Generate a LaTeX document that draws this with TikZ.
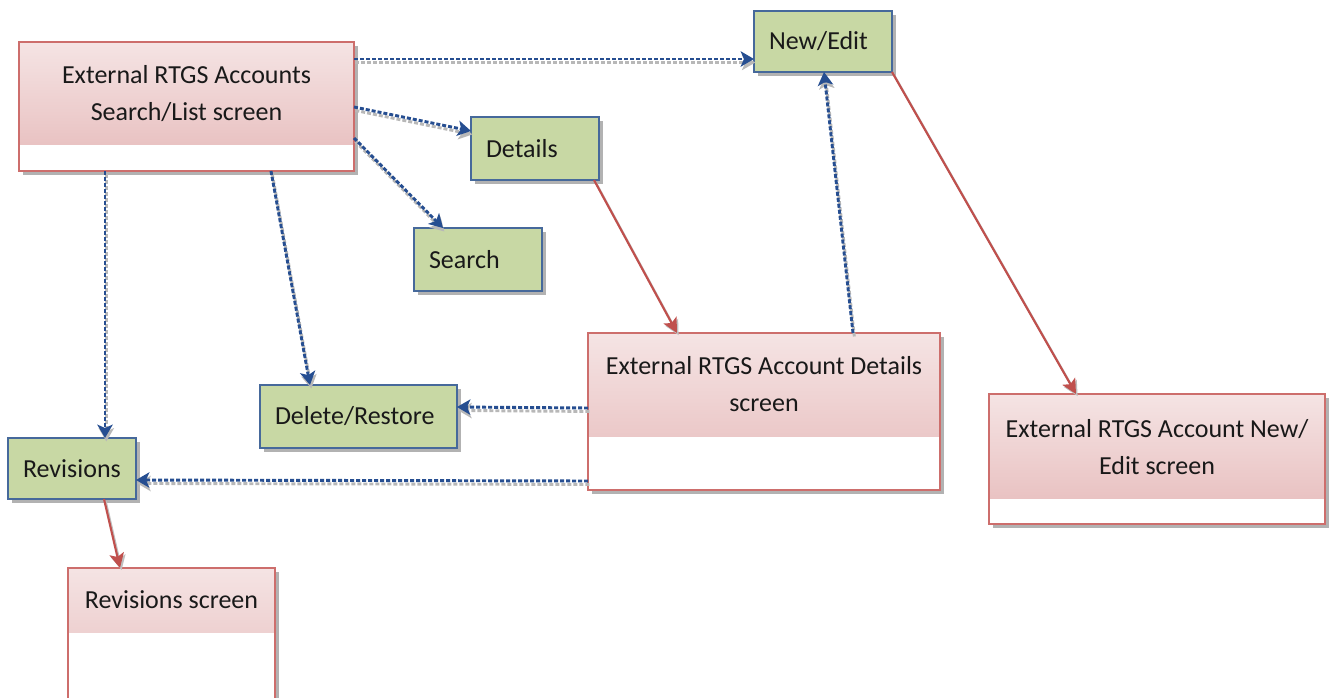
\documentclass[tikz,border=0pt]{standalone}
\usepackage{fontspec}
\setmainfont{Carlito}
\usetikzlibrary{arrows.meta,calc,shadows}
\definecolor{dotblue}{RGB}{38,78,145}
\definecolor{redline}{RGB}{192,80,77}
\definecolor{greenfill}{RGB}{200,216,164}
\definecolor{greenborder}{RGB}{70,105,155}
\definecolor{pinktop}{RGB}{245,228,228}
\definecolor{pinkbot}{RGB}{230,186,186}
\definecolor{pinkborder}{RGB}{205,110,108}
\begin{document}
\begin{tikzpicture}[x=0.75pt,y=-0.75pt,
  every node/.style={inner sep=0pt,outer sep=0pt},
  lbl/.style={font=\fontsize{19.5}{27.75}\selectfont,align=center,text=black!90},
  boxshadow/.style={drop shadow={shadow xshift=3.2pt,shadow yshift=-3.2pt,opacity=0.55,fill=black!55}},
  actbox/.style 2 args={draw=greenborder,line width=1.5pt,fill=greenfill,boxshadow,anchor=north west,
    font=\fontsize{19.5}{23}\selectfont,text=black!90,align=left,text width=#1,inner xsep=11.25pt,minimum height=#2},
  screenbox/.style={draw=pinkborder,line width=1.5pt,fill=white,boxshadow,anchor=north west,
    path picture={\shade[top color=pinktop,bottom color=pinkbot]
      (path picture bounding box.north west) rectangle ([yshift=-#1]path picture bounding box.north east);}},
  dotarrow/.style={draw=dotblue,line width=2.2pt,dash pattern=on 3pt off 1.5pt,
    -{Stealth[length=10pt,width=11.5pt,inset=2.5pt]},
    preaction={draw=black!28,line width=2.2pt,dash pattern=on 3pt off 1.5pt,
      -{Stealth[length=10pt,width=11.5pt,inset=2.5pt]},
      transform canvas={xshift=1pt,yshift=-2.6pt}}},
  redarrow/.style={draw=redline,line width=1.6pt,-{Stealth[length=11pt,width=11pt,inset=2.5pt]},
    preaction={draw=black!25,line width=1.6pt,-{Stealth[length=11pt,width=11pt,inset=2.5pt]},
      transform canvas={xshift=1.2pt,yshift=-1.6pt}}}
]
\useasboundingbox (0,0) rectangle (1333,698);

% screen boxes
\node[screenbox=77.25pt,minimum width=251.25pt,minimum height=96.75pt] (tl) at (19,42) {};
\node[lbl] (tltext) at ($(tl.north)+(0,51.5)$) {External RTGS Accounts\\Search/List screen};

\node[screenbox=77.25pt,minimum width=264pt,minimum height=117.75pt] (ds) at (588,333) {};
\node[lbl] (dstext) at ($(ds.north)+(0,51.5)$) {External RTGS Account Details\\screen};

\node[screenbox=78pt,minimum width=252pt,minimum height=97.5pt] (nes) at (989,394) {};
\node[lbl] (nestext) at ($(nes.north)+(0,53)$) {External RTGS Account New/\\Edit screen};

\node[screenbox=48pt,minimum width=155.25pt,minimum height=105pt] (rs) at (68,568) {};
\node[lbl] (rstext) at ($(rs.north)+(0,32)$) {Revisions screen};

% action boxes
\node[actbox={73.5pt}{47.25pt}] (det) at (471,117) {Details};
\node[actbox={73.5pt}{47.25pt}] (srch) at (414,228) {Search};
\node[actbox={81pt}{45.75pt}] (ne) at (754,11) {New/Edit};
\node[actbox={125.25pt}{47.25pt}] (dr) at (260,385) {Delete/Restore};
\node[actbox={73.5pt}{45.75pt}] (rev) at (8,438) {Revisions};

% dotted connectors
\draw[dotarrow] ($(tl.north east)+(0,17)$) -- ($(ne.south west)+(0,-13)$);
\draw[dotarrow] ($(tl.north east)+(0,65)$) -- ($(det.north west)+(0,14)$);
\draw[dotarrow] ($(tl.north east)+(0,96)$) -- ($(srch.north west)+(29,0)$);
\draw[dotarrow] ($(tl.south west)+(86,0)$) -- ($(rev.north west)+(97,0)$);
\draw[dotarrow] ($(tl.south west)+(252,0)$) -- ($(dr.north west)+(50,0)$);
\draw[dotarrow] ($(ds.north west)+(0,75)$) -- ($(dr.north east)+(0,22)$);
\draw[dotarrow] ($(ds.south west)+(0,-9)$) -- ($(rev.north east)+(0,42)$);
\draw[dotarrow] ($(ds.north west)+(265,0)$) -- ($(ne.south west)+(70,0)$);

% solid connectors
\draw[redarrow] ($(det.south east)+(-5,0)$) -- ($(ds.north west)+(89,0)$);
\draw[redarrow] (ne.south east) -- ($(nes.north west)+(87,0)$);
\draw[redarrow] ($(rev.south west)+(96,0)$) -- ($(rs.north west)+(52,0)$);
\end{tikzpicture}
\end{document}
